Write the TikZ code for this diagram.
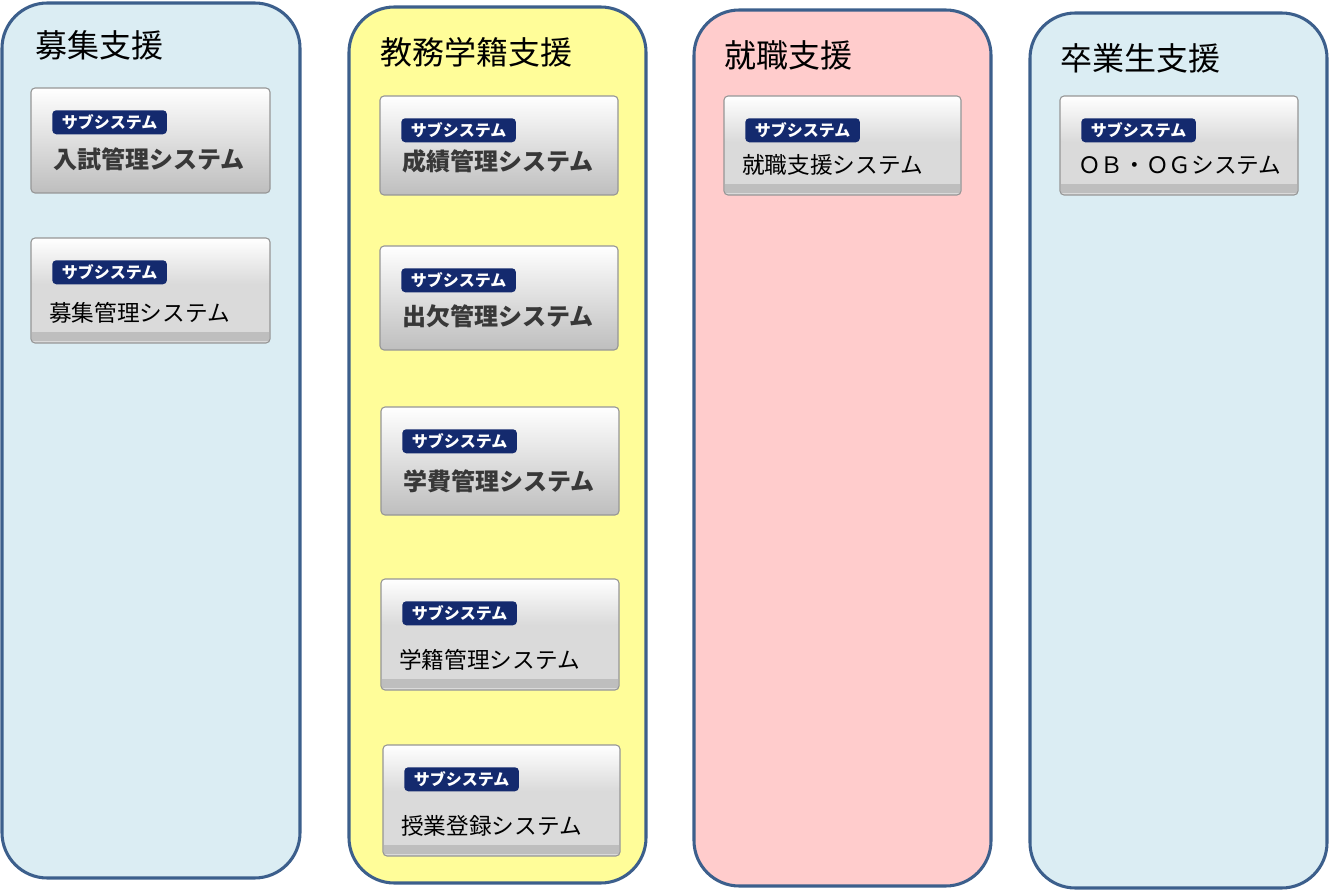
\documentclass[tikz,border=0pt]{standalone}
\usepackage{fontspec}
\setmainfont{Noto Sans CJK JP}
\usepackage{tikz}
\usepackage{xcolor}

% one sub-system card: name, top-left x y, bottom-right x y, label
\newcommand{\subsysbold}[6]{%
  \draw[subbox, top color=white, bottom color=boxlo] (#2,#3) rectangle (#4,#5);
  \node[badge] (#1-tag) at (#2+21,#3+22) {サブシステム};
  \node[boldlabel] (#1) at (#2+22,#5-34) {#6};
}
\newcommand{\subsysplain}[6]{%
  \fill[boxmid, rounded corners=3pt] (#2,#3) rectangle (#4,#5);
  \shade[top color=white, bottom color=boxmid, rounded corners=3pt] (#2,#3) rectangle (#4,#3+46);
  \fill[boxlo] (#2+1,#5-11) rectangle (#4-1,#5-2);
  \draw[subbox] (#2,#3) rectangle (#4,#5);
  \node[badge] (#1-tag) at (#2+21,#3+22) {サブシステム};
  \node[plainlabel] (#1) at (#2+18,#5-30) {#6};
}

\begin{document}
\begin{tikzpicture}[x=0.75pt,y=-0.75pt,
    column/.style={draw=colb, line width=2.3pt, rounded corners=34pt},
    title/.style={anchor=west, inner sep=0pt, font=\fontsize{24}{24}\selectfont},
    subbox/.style={draw=boxline, line width=0.8pt, rounded corners=3pt},
    badge/.style={anchor=north west, fill=navy, rounded corners=3pt, text=white,
      minimum width=86pt, minimum height=18pt, inner sep=0pt,
      font=\fontsize{12}{12}\selectfont\bfseries},
    boldlabel/.style={anchor=west, inner sep=0pt, text=black!78,
      font=\fontsize{18}{18}\selectfont\bfseries},
    plainlabel/.style={anchor=west, inner sep=0pt,
      font=\fontsize{17}{17}\selectfont}]
    \definecolor{colb}{RGB}{60,95,140}
    \definecolor{skyc}{RGB}{219,237,243}
    \definecolor{yelc}{RGB}{255,253,153}
    \definecolor{pinkc}{RGB}{255,204,204}
    \definecolor{navy}{RGB}{20,42,110}
    \definecolor{boxline}{RGB}{150,150,150}
    \definecolor{boxmid}{RGB}{218,218,218}
    \definecolor{boxlo}{RGB}{190,190,190}

    \useasboundingbox (0,0) rectangle (1329,891);

    % the four groups
    \draw[column, fill=skyc] (2,3) rectangle (300,878);
    \draw[column, fill=yelc] (349,7) rectangle (646,883);
    \draw[column, fill=pinkc] (694,10) rectangle (991,886);
    \draw[column, fill=skyc] (1030,13) rectangle (1327,888);

    \node[title] (boshu) at (35,45) {募集支援};
    \node[title] (kyomu) at (380,52) {教務学籍支援};
    \node[title] (shushoku) at (724,55) {就職支援};
    \node[title] (sotsugyo) at (1060,58) {卒業生支援};

    % sub-systems
    \subsysbold{nyushi}{31}{88}{270}{193}{入試管理システム}
    \subsysplain{bokan}{31}{238}{270}{343}{募集管理システム}

    \subsysbold{seiseki}{380}{96}{618}{195}{成績管理システム}
    \subsysbold{shukketsu}{380}{246}{618}{350}{出欠管理システム}
    \subsysbold{gakuhi}{381}{407}{619}{515}{学費管理システム}
    \subsysplain{gakuseki}{381}{579}{619}{690}{学籍管理システム}
    \subsysplain{jugyo}{383}{745}{620}{856}{授業登録システム}

    \subsysplain{shusys}{724}{96}{961}{195}{就職支援システム}

    \subsysplain{obog}{1060}{96}{1298}{195}{ＯＢ・ＯＧシステム}
\end{tikzpicture}
\end{document}
